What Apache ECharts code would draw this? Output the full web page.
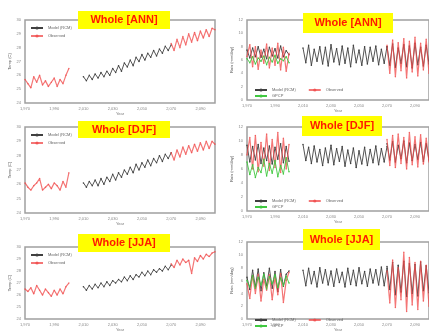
<!DOCTYPE html>
<html>
<head>
<meta charset="utf-8">
<script src="https://cdn.jsdelivr.net/npm/echarts@6/dist/echarts.min.js"></script>
<style>
  html, body { margin: 0; padding: 0; background: #fff; }
  #chart { width: 429px; height: 333px; }
</style>
</head>
<body>
<div id="chart"></div>
<script>
// years (2-year steps)
const yrsObs = [1970,1972,1974,1976,1978,1980,1982,1984,1986,1988,1990,1992,1994,1996,1998,2000];
const yrsMid = [2010,2012,2014,2016,2018,2020,2022,2024,2026,2028,2030,2032,2034,2036,2038,2040,2042,2044,2046,2048,2050,2052,2054,2056,2058,2060,2062,2064,2066,2068,2070];
const yrsEnd = [2070,2072,2074,2076,2078,2080,2082,2084,2086,2088,2090,2092,2094,2096,2098,2100];

// temperature panels (left column)
const tAnnObs = [25.7,25.4,25.1,25.9,25.5,26.0,25.3,25.6,25.2,25.5,25.8,25.2,25.7,25.4,26.0,26.5];
const tAnnMod = [25.9,25.6,26.0,25.7,26.1,25.8,26.2,25.9,26.3,26.0,26.5,26.2,26.7,26.3,26.9,26.6,27.1,26.7,27.3,27.0,27.5,27.1,27.6,27.3,27.8,27.4,27.9,27.6,28.1,27.8,28.2];
const tAnnEnd = [28.3,27.8,28.6,28.0,28.8,28.2,29.0,28.4,29.1,28.5,29.2,28.7,29.3,28.8,29.4,29.3];

const tDjfObs = [26.1,25.8,25.6,25.9,26.1,26.4,25.6,25.8,26.0,25.7,26.1,25.9,25.6,26.2,25.8,26.8];
const tDjfMod = [26.1,25.8,26.2,25.9,26.3,25.9,26.4,26.0,26.5,26.2,26.7,26.3,26.8,26.5,27.0,26.7,27.2,26.8,27.4,27.0,27.5,27.2,27.7,27.3,27.8,27.5,28.0,27.6,28.1,27.8,28.2];
const tDjfEnd = [28.2,27.7,28.4,27.9,28.6,28.1,28.7,28.2,28.8,28.3,28.9,28.4,29.0,28.5,29.0,28.8];

const tJjaObs = [26.5,26.3,26.6,26.1,26.8,26.4,26.0,26.5,26.2,25.9,26.4,26.0,26.5,26.1,26.7,27.0];
const tJjaMod = [26.7,26.4,26.8,26.5,26.9,26.6,27.0,26.7,27.1,26.8,27.2,27.0,27.3,27.1,27.5,27.2,27.6,27.3,27.7,27.5,27.9,27.6,28.0,27.7,28.1,27.9,28.2,28.0,28.4,28.1,28.5];
const tJjaEnd = [28.6,28.3,28.9,28.5,29.0,28.7,28.9,27.8,29.1,28.8,29.3,29.0,29.4,29.2,29.5,29.6];

// rainfall panels (right column)
const pAnnModObs = [7.5,6.3,7.8,6.5,8.0,6.4,7.6,6.2,7.9,6.6,7.7,6.3,8.1,6.5,7.4,6.8];
const pAnnObs    = [6.5,8.3,5.0,8.0,4.6,7.5,5.5,8.4,4.8,7.8,5.2,8.5,4.5,7.9,4.3,7.0];
const pAnnSat    = [6.2,5.6,6.5,5.4,6.3,5.8,6.6,5.3,6.4,5.7,6.7,5.5,6.2,5.9,6.5,5.6];
const pAnnMod    = [7.8,5.6,8.2,5.2,7.6,5.8,8.0,5.4,7.9,5.1,8.3,5.7,7.7,5.3,8.1,5.5,7.8,5.0,8.2,5.6,7.5,5.2,8.0,5.4,7.9,5.8,8.1,5.3,7.6,5.5,8.0];
const pAnnModEnd = [8.0,5.2,8.4,4.9,7.8,5.5,8.3,5.0,8.1,4.8,8.5,5.3,7.9,5.1,8.2,5.4];
const pAnnEnd    = [8.2,4.0,9.0,3.5,8.6,4.4,9.2,3.3,8.8,4.2,9.4,3.6,8.5,4.5,9.1,4.0];

const pDjfModObs = [9.4,7.0,9.2,7.3,9.5,6.8,9.0,7.2,9.3,6.7,9.1,7.4,9.6,6.9,9.2,7.1];
const pDjfObs    = [8.0,10.5,6.0,10.8,5.6,9.8,6.4,11.0,5.8,10.2,6.2,11.2,5.5,10.4,6.0,9.5];
const pDjfSat    = [7.0,5.2,6.6,4.8,6.2,5.5,7.4,5.0,6.8,5.4,7.2,4.9,6.5,5.3,7.6,5.6];
const pDjfMod    = [9.5,7.2,9.1,6.8,9.3,7.0,8.8,6.5,9.0,6.9,9.4,6.6,8.9,7.1,9.2,6.4,8.7,6.8,9.0,6.2,8.6,6.7,9.1,6.5,8.8,6.9,9.3,6.6,8.9,7.0,9.2];
const pDjfModEnd = [9.6,7.3,9.9,7.0,9.4,7.5,10.0,6.9,9.7,7.2,9.5,7.4,9.8,7.1,9.6,7.3];
const pDjfEnd    = [10.2,6.5,10.8,6.2,11.0,6.8,10.5,6.0,11.2,6.6,10.6,6.3,10.9,6.7,10.4,7.0];

const pJjaModObs = [6.5,4.6,7.6,5.0,7.8,4.4,7.2,5.2,7.9,4.8,7.4,4.3,7.7,5.1,7.0,7.5];
const pJjaObs    = [5.5,3.2,6.8,4.0,7.0,2.8,6.2,4.5,6.9,3.0,6.5,3.8,7.1,2.6,6.0,7.3];
const pJjaSat    = [6.0,5.0,6.8,4.8,6.5,5.3,7.0,4.7,6.6,5.5,6.9,4.9,6.4,5.2,6.7,5.6];
const pJjaMod    = [7.6,5.2,7.9,5.5,7.4,5.0,8.0,5.6,7.7,5.3,7.5,5.1,7.8,5.7,7.3,5.0,7.9,5.4,7.6,5.2,8.0,5.5,7.4,5.1,7.8,5.6,7.7,5.3,8.1,5.2,7.9];
const pJjaModEnd = [8.2,4.6,8.8,3.8,8.4,4.2,9.0,3.5,8.6,4.0,8.5,3.6,8.9,4.4,8.3,4.1];
const pJjaEnd    = [7.5,2.5,9.2,1.8,8.0,3.0,10.4,1.2,9.6,2.2,8.8,1.5,9.0,2.8,8.4,2.0];

const titles = ['Whole [ANN]', 'Whole [DJF]', 'Whole [JJA]'];
const nameMod = 'Model (RCM)';
const nameObs = 'Observed';
const nameSat = 'GPCP';

const chart = echarts.init(document.getElementById('chart'));
const pair = (yrs, vals) => yrs.map((y, i) => [y, vals[i]]);

const grids = [
  { left: 25, top: 20, width: 190, height: 83 },
  { left: 247, top: 20, width: 189, height: 80 },
  { left: 25, top: 127, width: 190, height: 86 },
  { left: 247, top: 127, width: 189, height: 84 },
  { left: 25, top: 247, width: 190, height: 83 },
  { left: 247, top: 242, width: 189, height: 88 },
].map(g => Object.assign({ show: true, borderColor: '#a0a0a0', borderWidth: 1.5, backgroundColor: '#fff' }, g));

const lbl = { fontSize: 4, color: '#888', margin: 4 };
const xAxes = grids.map((g, i) => ({
  type: 'value', gridIndex: i, min: 1970, max: 2100, interval: 20,
  name: 'Year', nameLocation: 'middle', nameGap: 7, nameTextStyle: { fontSize: 4, color: '#777' },
  axisLabel: Object.assign({ showMaxLabel: false }, lbl),
  axisLine: { show: false }, axisTick: { show: false }, splitLine: { show: false },
}));
const yAxes = grids.map((g, i) => {
  const left = i % 2 === 0;
  return {
    type: 'value', gridIndex: i,
    min: left ? 24 : 0, max: left ? 30 : 12, interval: left ? 1 : 2,
    name: left ? 'Temp (C)' : 'Rain (mm/day)', nameLocation: 'middle', nameGap: 13,
    nameTextStyle: { fontSize: 4, color: '#555' },
    axisLabel: lbl, axisLine: { show: false }, axisTick: { show: false }, splitLine: { show: false },
  };
});

const black = '#404040', red = '#f04848', green = '#40c840';
function line(idx, name, data, color, z) {
  const isObs = name === nameObs;
  return {
    type: 'line', name, xAxisIndex: idx, yAxisIndex: idx, data, z,
    symbol: 'circle', symbolSize: 1.5,
    lineStyle: { width: isObs ? 1.2 : 0.9, color, opacity: isObs ? 0.75 : 1 },
    itemStyle: { color, opacity: isObs ? 0.75 : 1 },
    animation: false,
  };
}

const tempSets = [[tAnnObs, tAnnMod, tAnnEnd], [tDjfObs, tDjfMod, tDjfEnd], [tJjaObs, tJjaMod, tJjaEnd]];
const rainSets = [
  [pAnnModObs, pAnnObs, pAnnSat, pAnnMod, pAnnModEnd, pAnnEnd],
  [pDjfModObs, pDjfObs, pDjfSat, pDjfMod, pDjfModEnd, pDjfEnd],
  [pJjaModObs, pJjaObs, pJjaSat, pJjaMod, pJjaModEnd, pJjaEnd],
];

const series = [];
tempSets.forEach((s, r) => {
  const idx = r * 2;
  series.push(line(idx, nameMod, pair(yrsMid, s[1]), black, 2));
  series.push(line(idx, nameObs, pair(yrsObs, s[0]), red, 3));
  series.push(line(idx, nameObs, pair(yrsEnd, s[2]), red, 3));
});
rainSets.forEach((s, r) => {
  const idx = r * 2 + 1;
  series.push(line(idx, nameMod, pair(yrsObs, s[0]), black, 2));
  series.push(line(idx, nameMod, pair(yrsMid, s[3]), black, 2));
  series.push(line(idx, nameMod, pair(yrsEnd, s[4]), black, 2));
  series.push(line(idx, nameObs, pair(yrsObs, s[1]), red, 3));
  series.push(line(idx, nameObs, pair(yrsEnd, s[5]), red, 3));
  series.push(line(idx, nameSat, pair(yrsObs, s[2]), green, 4));
});

const legStyle = { itemWidth: 12, itemHeight: 4, itemGap: 4, textStyle: { fontSize: 4, color: '#666' }, selectedMode: false, padding: 0 };
const legends = [];
[20, 127, 247].forEach(t => {
  legends.push(Object.assign({ orient: 'vertical', left: 30, top: t + 6, data: [nameMod, nameObs] }, legStyle));
});
[[20, 100], [127, 211], [242, 330]].forEach(([t, b]) => {
  legends.push(Object.assign({ orient: 'horizontal', left: 254, top: b - 12, data: [nameMod, nameObs] }, legStyle, { itemGap: 12 }));
  legends.push(Object.assign({ orient: 'horizontal', left: 254, top: b - 6, data: [nameSat] }, legStyle));
});

const boxes = [
  { x: 78, y: 11, w: 92, h: 18, t: titles[0] },
  { x: 303, y: 13, w: 90, h: 20, t: titles[0] },
  { x: 78, y: 121, w: 92, h: 17, t: titles[1] },
  { x: 302, y: 116, w: 80, h: 20, t: titles[1] },
  { x: 78, y: 234, w: 92, h: 18, t: titles[2] },
  { x: 303, y: 229, w: 77, h: 21, t: titles[2] },
];
const graphic = [];
boxes.forEach(b => {
  graphic.push({ type: 'rect', left: b.x, top: b.y, z: 100, shape: { width: b.w, height: b.h }, style: { fill: '#ffff00' } });
  graphic.push({ type: 'text', x: b.x + b.w / 2, y: b.y + b.h / 2, z: 101,
    style: { text: b.t, fill: '#ff1a00', font: 'bold 11px Arial', align: 'center', verticalAlign: 'middle' } });
});

chart.setOption({
  animation: false,
  grid: grids,
  xAxis: xAxes,
  yAxis: yAxes,
  legend: legends,
  series,
  graphic,
});
</script>
</body>
</html>
